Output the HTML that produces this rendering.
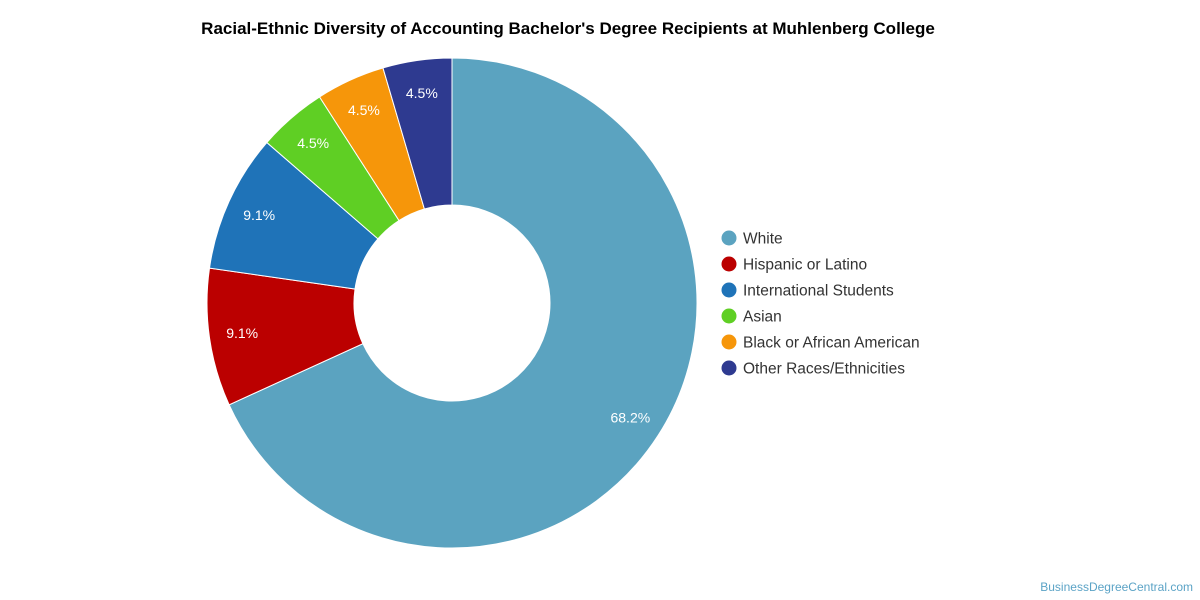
<!DOCTYPE html>
<html><head><meta charset="utf-8">
<style>
body{margin:0;background:#fff;font-family:"Liberation Sans",sans-serif;}
#wrap{position:relative;width:1200px;height:600px;overflow:hidden;}
</style></head>
<body>
<div id="wrap">
<svg id="svg" width="1200" height="600" xmlns="http://www.w3.org/2000/svg">
<text x="568" y="34" text-anchor="middle" font-size="17" font-weight="bold" fill="#000">Racial-Ethnic Diversity of Accounting Bachelor's Degree Recipients at Muhlenberg College</text>
<g id="slices"></g>
<g id="legend"></g>
<text x="1193" y="591" text-anchor="end" font-size="12" fill="#5ba3c6">BusinessDegreeCentral.com</text>
</svg>
</div>
<script>
const categories=["White","Hispanic or Latino","International Students","Asian","Black or African American","Other Races/Ethnicities"];
const values=[15,2,2,1,1,1];
const colors=["#5ba3c0","#bb0000","#1f73b8","#5fcf24","#f6960a","#2e3a90"];
const NS="http://www.w3.org/2000/svg";
const cx=452,cy=303,R=245,r=98,LR=212;
const total=values.reduce((a,b)=>a+b,0);
const g=document.getElementById('slices');
let a0=0;
function pt(a,rad){return [cx+rad*Math.sin(a),cy-rad*Math.cos(a)];}
values.forEach((v,i)=>{
  const a1=a0+v/total*2*Math.PI;
  const large=(a1-a0)>Math.PI?1:0;
  const p1=pt(a0,R),p2=pt(a1,R),p3=pt(a1,r),p4=pt(a0,r);
  const path=document.createElementNS(NS,'path');
  path.setAttribute('d',`M${p1[0]},${p1[1]} A${R},${R} 0 ${large} 1 ${p2[0]},${p2[1]} L${p3[0]},${p3[1]} A${r},${r} 0 ${large} 0 ${p4[0]},${p4[1]} Z`);
  path.setAttribute('fill',colors[i]);
  path.setAttribute('stroke','#fff');
  path.setAttribute('stroke-width','1');
  
  
  g.appendChild(path);
  const m=(a0+a1)/2, lp=pt(m,LR);
  const t=document.createElementNS(NS,'text');
  t.setAttribute('x',lp[0]);t.setAttribute('y',lp[1]+5);
  t.setAttribute('text-anchor','middle');t.setAttribute('font-size','14');t.setAttribute('fill','#fff');
  t.textContent=(v/total*100).toFixed(1)+'%';
  
  
  g.appendChild(t);
  a0=a1;
});
const lg=document.getElementById('legend');
categories.forEach((c,i)=>{
  const y=238+i*26;
  const ci=document.createElementNS(NS,'circle');
  ci.setAttribute('cx',729);ci.setAttribute('cy',y);ci.setAttribute('r',7.5);ci.setAttribute('fill',colors[i]);
  
  
  lg.appendChild(ci);
  const t=document.createElementNS(NS,'text');
  t.setAttribute('x',743);t.setAttribute('y',y+5.5);t.setAttribute('font-size','15.5');t.setAttribute('fill','#333');
  t.textContent=c;
  
  
  lg.appendChild(t);
});
</script>
</body></html>
